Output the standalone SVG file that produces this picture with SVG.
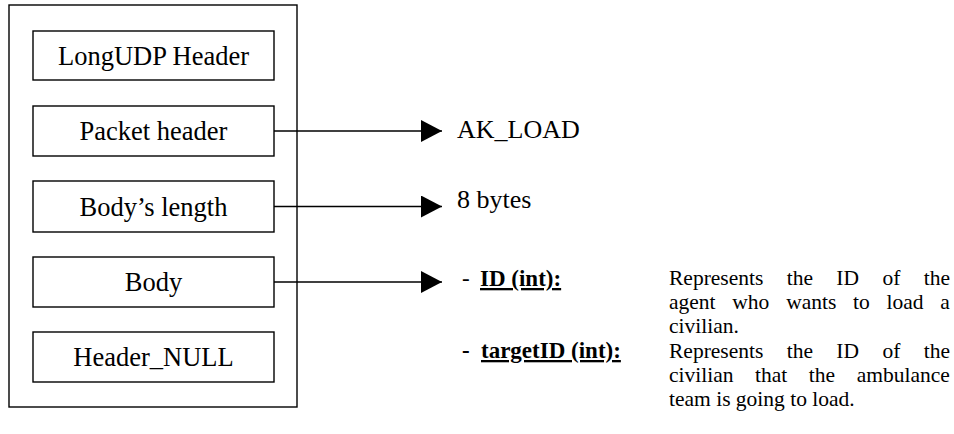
<svg xmlns="http://www.w3.org/2000/svg" width="954" height="434" viewBox="0 0 954 434">
  <style>
    .frame { fill: #fff; stroke: #000; stroke-width: 1.4; }
    .box { fill: #fff; stroke: #000; stroke-width: 1.4; }
    .lbl { font-family: "Liberation Serif", "Times New Roman", serif; font-size: 26.5px; fill: #000; text-anchor: middle; }
    .val { font-family: "Liberation Serif", "Times New Roman", serif; font-size: 26px; fill: #000; }
    .key { font-family: "Liberation Serif", "Times New Roman", serif; font-size: 23px; fill: #000; }
    .desc { font-family: "Liberation Serif", "Times New Roman", serif; font-size: 21.5px; fill: #000; }
    .fld { font-weight: bold; text-decoration: underline; }
    .conn { stroke: #000; stroke-width: 1.4; fill: none; }
  </style>
  <defs>
    <marker id="arrow" markerUnits="userSpaceOnUse" markerWidth="22" markerHeight="24" refX="21" refY="11" orient="auto">
      <path d="M0,0 L21,11 L0,22 Z" fill="#000"/>
    </marker>
  </defs>
  <rect width="954" height="434" fill="#fff"/>

  <g id="packet">
    <rect class="frame" x="9" y="5" width="288" height="402"/>
  </g>

  <g id="longudp-header">
    <rect class="box" x="33" y="31" width="241" height="49"/>
    <text class="lbl" x="153.5" y="64.5">LongUDP Header</text>
  </g>
  <g id="packet-header">
    <rect class="box" x="33" y="106" width="241" height="50"/>
    <text class="lbl" x="153.5" y="140">Packet header</text>
  </g>
  <g id="body-length">
    <rect class="box" x="33" y="181" width="241" height="51"/>
    <text class="lbl" x="153.5" y="215.5">Body’s length</text>
  </g>
  <g id="body">
    <rect class="box" x="33" y="257" width="241" height="50"/>
    <text class="lbl" x="153.5" y="291">Body</text>
  </g>
  <g id="header-null">
    <rect class="box" x="33" y="332" width="241" height="50"/>
    <text class="lbl" x="153.5" y="366">Header_NULL</text>
  </g>

  <g id="connectors">
    <line class="conn" x1="274" y1="131" x2="442" y2="131" marker-end="url(#arrow)"/>
    <line class="conn" x1="274" y1="206.5" x2="442" y2="206.5" marker-end="url(#arrow)"/>
    <line class="conn" x1="274" y1="282" x2="442" y2="282" marker-end="url(#arrow)"/>
  </g>

  <g id="ak-load">
    <text class="val" x="457" y="138">AK_LOAD</text>
  </g>
  <g id="length-value">
    <text class="val" x="457" y="208">8 bytes</text>
  </g>
  <g id="body-fields">
    <g id="field-id">
      <text class="key" y="286"><tspan x="462">-</tspan><tspan x="480" class="fld">ID (int):</tspan></text>
      <text class="desc" x="669" y="285"><tspan x="669" y="285" word-spacing="18">Represents the ID of the</tspan><tspan x="669" y="309" word-spacing="11.4">agent who wants to load a</tspan><tspan x="669" y="333">civilian.</tspan></text>
    </g>
    <g id="field-targetid">
      <text class="key" y="358"><tspan x="462" font-weight="bold">-</tspan><tspan x="481" class="fld">targetID (int):</tspan></text>
      <text class="desc" x="669" y="358"><tspan x="669" y="358" word-spacing="18">Represents the ID of the</tspan><tspan x="669" y="382" word-spacing="16.2">civilian that the ambulance</tspan><tspan x="669" y="406">team is going to load.</tspan></text>
    </g>
  </g>
</svg>
